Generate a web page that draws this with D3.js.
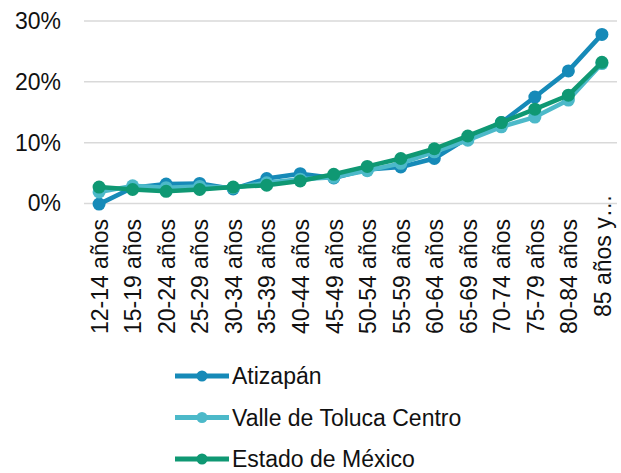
<!DOCTYPE html>
<html>
<head>
<meta charset="utf-8">
<script src="https://cdn.jsdelivr.net/npm/d3@7"></script>
<style>
  html, body { margin: 0; padding: 0; background: #fff; }
  svg { display: block; font-family: "Liberation Sans", Arial, sans-serif; }
</style>
</head>
<body>
<svg id="chart" width="621" height="473"></svg>
<script>
// Age groups
const categories = ["12-14 años", "15-19 años", "20-24 años", "25-29 años", "30-34 años",
  "35-39 años", "40-44 años", "45-49 años", "50-54 años", "55-59 años", "60-64 años",
  "65-69 años", "70-74 años", "75-79 años", "80-84 años", "85 años y más"];

// Percentages per age group
const atizapan = [-0.1, 2.6, 3.2, 3.3, 2.4, 4.1, 4.9, 4.2, 5.6, 6.0, 7.4, 10.8, 13.3, 17.5, 21.8, 27.8];
const valleToluca = [1.9, 2.9, 2.6, 2.8, 2.6, 3.4, 4.0, 4.3, 5.4, 6.6, 8.5, 10.4, 12.6, 14.2, 17.0, 23.0];
const estadoMexico = [2.7, 2.3, 2.0, 2.3, 2.7, 3.0, 3.7, 4.8, 6.1, 7.4, 9.0, 11.1, 13.3, 15.5, 17.8, 23.2];

const seriesNames = ["Atizapán", "Valle de Toluca Centro", "Estado de México"];
const seriesColors = ["#168ab8", "#4cb9c9", "#0f9873"];
const yTicks = [0, 10, 20, 30];

const series = [atizapan, valleToluca, estadoMexico].map((values, i) => ({
  name: seriesNames[i], color: seriesColors[i], values
}));

const svg = d3.select("#chart");
const fontSize = 23;

const x = d3.scalePoint().domain(categories).range([84, 617]).padding(0.45);
const y = d3.scaleLinear().domain([0, 30]).range([203.5, 21]);

// Horizontal gridlines
svg.append("g")
  .selectAll("line")
  .data(yTicks)
  .join("line")
  .attr("x1", 84).attr("x2", 617)
  .attr("y1", d => y(d)).attr("y2", d => y(d))
  .attr("stroke", "#d9d9d9").attr("stroke-width", 1.5);

// Y axis labels
const yAxis = d3.axisLeft(y).tickValues(yTicks).tickFormat(d => d + "%").tickSize(0).tickPadding(0);
const yg = svg.append("g").attr("transform", "translate(61,0)").call(yAxis);
yg.select(".domain").remove();
yg.selectAll("text")
  .attr("font-size", fontSize)
  .attr("font-family", "Liberation Sans, Arial, sans-serif")
  .attr("fill", "#111");

// X axis labels, rotated
const xAxis = d3.axisBottom(x).tickSize(0).tickPadding(0);
const xg = svg.append("g").attr("transform", "translate(0,219)").call(xAxis);
xg.select(".domain").remove();
const maxLabelLen = 135;
xg.selectAll("text")
  .attr("font-size", fontSize)
  .attr("font-family", "Liberation Sans, Arial, sans-serif")
  .attr("fill", "#111")
  .attr("text-anchor", "end")
  .attr("transform", "rotate(-90)")
  .attr("x", 0)
  .attr("y", 0)
  .attr("dy", "0.36em")
  .each(function (d) {
    const t = d3.select(this);
    if (this.getComputedTextLength() > maxLabelLen) {
      let s = d;
      while (s.length > 1) {
        s = s.slice(0, -1);
        t.text(s.trimEnd() + "…");
        if (this.getComputedTextLength() <= maxLabelLen) break;
      }
      t.text(s.trimEnd() + "…").attr("x", 22).attr("dx", "0.12em");
    }
  });

// Lines and markers
const line = d3.line()
  .x((d, i) => x(categories[i]))
  .y(d => y(d));

const sg = svg.append("g");
series.forEach(s => {
  const g = sg.append("g");
  g.append("path")
    .datum(s.values)
    .attr("d", line)
    .attr("fill", "none")
    .attr("stroke", s.color)
    .attr("stroke-width", 4.5)
    .attr("stroke-linejoin", "round");
  g.selectAll("circle")
    .data(s.values)
    .join("circle")
    .attr("cx", (d, i) => x(categories[i]))
    .attr("cy", d => y(d))
    .attr("r", 6.5)
    .attr("fill", s.color);
});

// Legend
const legend = svg.append("g");
series.forEach((s, i) => {
  const ly = 376 + i * 41.5;
  const row = legend.append("g").attr("transform", `translate(0,${ly})`);
  row.append("line")
    .attr("x1", 175).attr("x2", 229)
    .attr("y1", 0).attr("y2", 0)
    .attr("stroke", s.color).attr("stroke-width", 5);
  row.append("circle")
    .attr("cx", 202).attr("cy", 0).attr("r", 5.5)
    .attr("fill", s.color);
  row.append("text")
    .attr("x", 232).attr("y", 0).attr("dy", "0.36em")
    .attr("font-size", fontSize)
    .attr("fill", "#111")
    .text(s.name);
});
</script>
</body>
</html>
